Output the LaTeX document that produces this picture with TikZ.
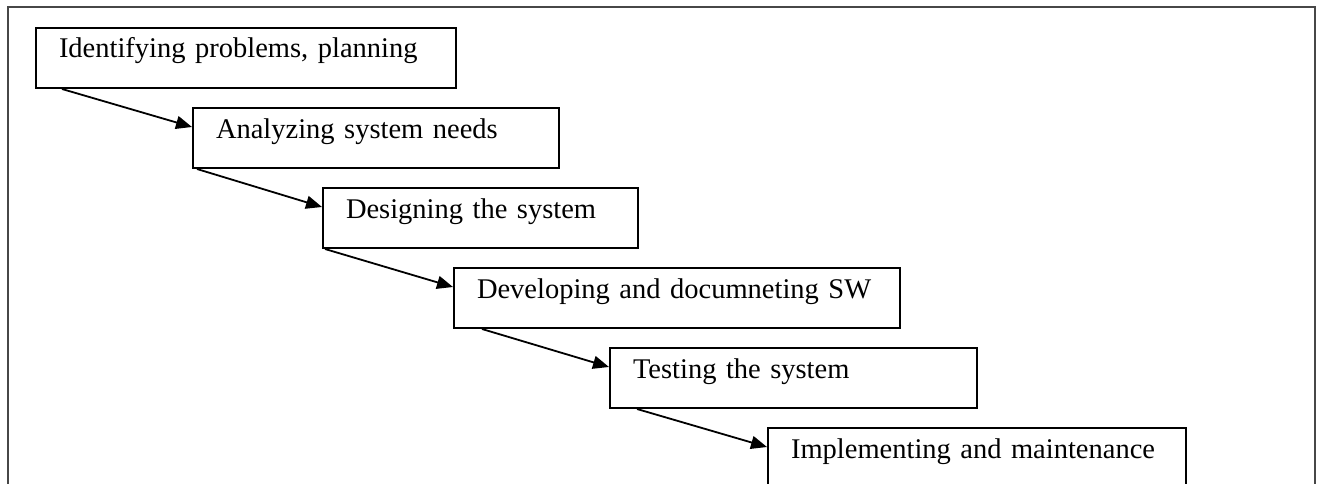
\documentclass[tikz,border=0pt]{standalone}
\usepackage{fontspec}
\setmainfont{Liberation Serif}
\usetikzlibrary{arrows.meta}
\definecolor{framegray}{gray}{0.28}

\begin{document}
\begin{tikzpicture}[
  x=1pt, y=-1pt,
  stage/.style={draw, line width=2pt, anchor=north west, align=left,
    inner xsep=23pt, inner ysep=0pt, text height=12pt, text depth=12pt,
    minimum height=60pt, font=\fontsize{28.5}{34}\selectfont},
  flow/.style={-{Triangle[length=16pt,width=13pt]}, line width=1.8pt}
]
\useasboundingbox (0,0) rectangle (1321,484);
\clip (0,0) rectangle (1321,484);

% outer frame (bottom edge cut off)
\draw[framegray, line width=2.6pt] (8,490) -- (8,7) -- (1315,7) -- (1315,490);

% stage boxes
\node[stage, text width=374pt] (s1) at (35,27) {Identifying problems, planning};
\node[stage, text width=320pt] (s2) at (192,107) {Analyzing system needs};
\node[stage, text width=269pt] (s3) at (322,187) {Designing the system};
\node[stage, text width=400pt] (s4) at (453,267) {Developing and documneting SW};
\node[stage, text width=321pt] (s5) at (609,347) {Testing the system};
\node[stage, text width=372pt] (s6) at (767,427) {Implementing and maintenance};

% arrows
\foreach \a/\b/\d in {s1/s2/27,s2/s3/5,s3/s4/3,s4/s5/29,s5/s6/28}
  \draw[flow] ([xshift=\d pt]\a.south west) -- ([yshift=-20pt]\b.north west);

\end{tikzpicture}
\end{document}
